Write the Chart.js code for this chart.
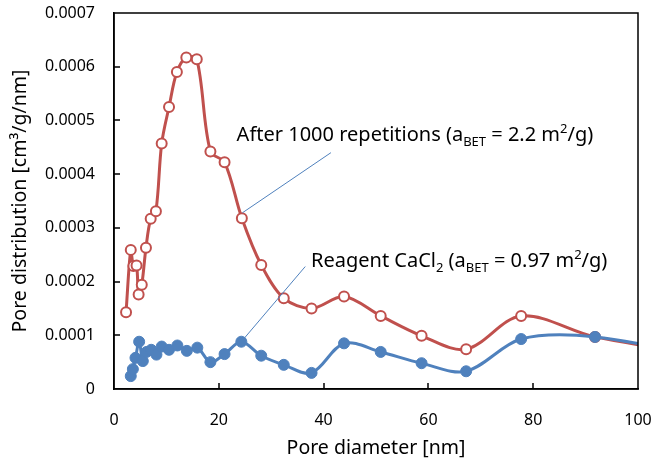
<!DOCTYPE html>
<html>
<head>
<meta charset="utf-8">
<script src="https://cdn.jsdelivr.net/npm/chart.js@4"></script>
<style>
  body { margin: 0; background: #fff; }
</style>
</head>
<body>
<canvas id="poreChart" width="653" height="462"></canvas>
<script>
// pore diameter [nm] and pore distribution [cm3/g/nm]
const diamAfter = [2.3, 3.2, 3.7, 4.3, 4.7, 5.3, 6.1, 7.0, 8.0, 9.1, 10.5, 12.0, 13.8, 15.8, 18.4, 21.1, 24.4, 28.1, 32.4, 37.7, 43.9, 50.9, 58.7, 67.2, 77.7, 91.8, 115];
const distAfter = [0.000143, 0.000259, 0.000229, 0.000230, 0.000176, 0.000194, 0.000263, 0.000317, 0.000331, 0.000457, 0.000525, 0.000590, 0.000617, 0.000614, 0.000442, 0.000422, 0.000318, 0.000231, 0.000169, 0.000150, 0.000172, 0.000136, 0.000099, 0.000074, 0.000136, 0.000097, 0.000060];

const diamReagent = [3.2, 3.6, 4.1, 4.8, 5.5, 6.2, 7.1, 8.1, 9.1, 10.5, 12.1, 13.9, 15.9, 18.4, 21.1, 24.3, 28.1, 32.4, 37.7, 43.9, 50.9, 58.7, 67.2, 77.7, 91.8, 115];
const distReagent = [0.000024, 0.000037, 0.000058, 0.000088, 0.000052, 0.000069, 0.000073, 0.000064, 0.000079, 0.000073, 0.000081, 0.000071, 0.000077, 0.000050, 0.000065, 0.000088, 0.000062, 0.000045, 0.000030, 0.000085, 0.000069, 0.000048, 0.000033, 0.000093, 0.000097, 0.000055];

const xTicks = [0, 20, 40, 60, 80, 100];
const yTicks = [0, 0.0001, 0.0002, 0.0003, 0.0004, 0.0005, 0.0006, 0.0007];

const RED = '#C0504D';
const BLUE = '#4F81BD';
const FONT = '"Noto Sans", "Open Sans", sans-serif';

// callouts, in data units: text anchor and leader line
const callouts = [
  { parts: [['After 1000 repetitions (a'], ['BET', 'sub'], [' = 2.2 m'], ['2', 'sup'], ['/g)']],
    at: [23.4, 0.000461], from: [41.4, 0.000440], to: [24.5, 0.000328] },
  { parts: [['Reagent CaCl'], ['2', 'sub'], [' (a'], ['BET', 'sub'], [' = 0.97 m'], ['2', 'sup'], ['/g)']],
    at: [37.6, 0.000228], from: [36.5, 0.000228], to: [24.6, 0.0000915] }
];

function toPoints(xs, ys) {
  return xs.map((x, i) => ({ x: x, y: ys[i] }));
}

const framePlugin = {
  id: 'frame',
  afterDraw(chart) {
    const c2 = chart.ctx;
    const sx = chart.scales.x;
    const sy = chart.scales.y;
    const left = sx.left, right = sx.right, top = sy.top, bottom = sy.bottom;
    c2.save();
    // plot box and inward ticks
    c2.strokeStyle = '#000000';
    c2.lineWidth = 1.5;
    c2.beginPath();
    c2.moveTo(left, top);
    c2.lineTo(right, top);
    c2.lineTo(right, bottom);
    c2.lineTo(left, bottom);
    c2.closePath();
    xTicks.slice(1, -1).forEach(v => {
      const px = Math.round(sx.getPixelForValue(v));
      c2.moveTo(px, bottom);
      c2.lineTo(px, bottom - 6);
    });
    yTicks.slice(1, -1).forEach(v => {
      const py = Math.round(sy.getPixelForValue(v));
      c2.moveTo(left, py);
      c2.lineTo(left + 6, py);
    });
    c2.stroke();

    callouts.forEach(c => {
      // leader line
      c2.strokeStyle = BLUE;
      c2.lineWidth = 1;
      c2.beginPath();
      c2.moveTo(sx.getPixelForValue(c.from[0]), sy.getPixelForValue(c.from[1]));
      c2.lineTo(sx.getPixelForValue(c.to[0]), sy.getPixelForValue(c.to[1]));
      c2.stroke();
      // text with sub/superscripts
      let x = sx.getPixelForValue(c.at[0]);
      const y = sy.getPixelForValue(c.at[1]);
      c2.fillStyle = '#000';
      c2.textBaseline = 'alphabetic';
      c2.textAlign = 'left';
      c.parts.forEach(p => {
        let dy = 0;
        if (p[1]) {
          c2.font = '13px ' + FONT;
          dy = p[1] === 'sub' ? 5 : -8;
        } else {
          c2.font = '20px ' + FONT;
        }
        c2.fillText(p[0], x, y + dy);
        x += c2.measureText(p[0]).width;
      });
    });
    c2.restore();
  }
};

const chartCtx = document.getElementById('poreChart').getContext('2d');

new Chart(chartCtx, {
  type: 'line',
  data: {
    datasets: [{
      label: 'Reagent CaCl2',
      data: toPoints(diamReagent, distReagent),
      borderColor: BLUE,
      backgroundColor: BLUE,
      borderWidth: 3,
      pointRadius: 5.5,
      pointBorderWidth: 1,
      pointBackgroundColor: BLUE,
      pointBorderColor: BLUE,
      tension: 0.33,
      clip: 0,
      order: 1
    }, {
      label: 'After 1000 repetitions',
      data: toPoints(diamAfter, distAfter),
      borderColor: RED,
      backgroundColor: '#fff',
      borderWidth: 3,
      pointRadius: 5,
      pointBorderWidth: 2,
      pointBackgroundColor: '#fff',
      pointBorderColor: RED,
      tension: 0.33,
      clip: 0,
      order: 2
    }]
  },
  options: {
    responsive: false,
    animation: false,
    layout: { padding: 0 },
    plugins: {
      legend: { display: false },
      tooltip: { enabled: false }
    },
    scales: {
      x: {
        type: 'linear',
        min: 0,
        max: 100,
        afterFit: s => {
          s.height = 73;
          s.paddingLeft = 0;
          s.paddingRight = 15;
        },
        grid: { display: false, drawTicks: false },
        border: { display: true, color: '#000', width: 1.5 },
        ticks: { stepSize: 20, padding: 22, color: '#000', font: { family: FONT, size: 16 } },
        title: {
          display: true,
          text: 'Pore diameter [nm]',
          color: '#000',
          font: { family: FONT, size: 19.5 },
          padding: { top: 0, bottom: 2 }
        }
      },
      y: {
        min: 0,
        max: 0.0007,
        afterFit: s => {
          s.width = 114;
          s.paddingTop = 13;
          s.paddingBottom = 0;
        },
        grid: { display: false, drawTicks: false },
        border: { display: true, color: '#000', width: 1.5 },
        ticks: {
          stepSize: 0.0001,
          padding: 19,
          color: '#000',
          font: { family: FONT, size: 16 },
          callback: v => (v === 0 ? '0' : v.toFixed(4))
        },
        title: {
          display: true,
          text: 'Pore distribution [cm³/g/nm]',
          color: '#000',
          font: { family: FONT, size: 19.5 },
          padding: { top: 9, bottom: 0 }
        }
      }
    }
  },
  plugins: [framePlugin]
});
</script>
</body>
</html>
